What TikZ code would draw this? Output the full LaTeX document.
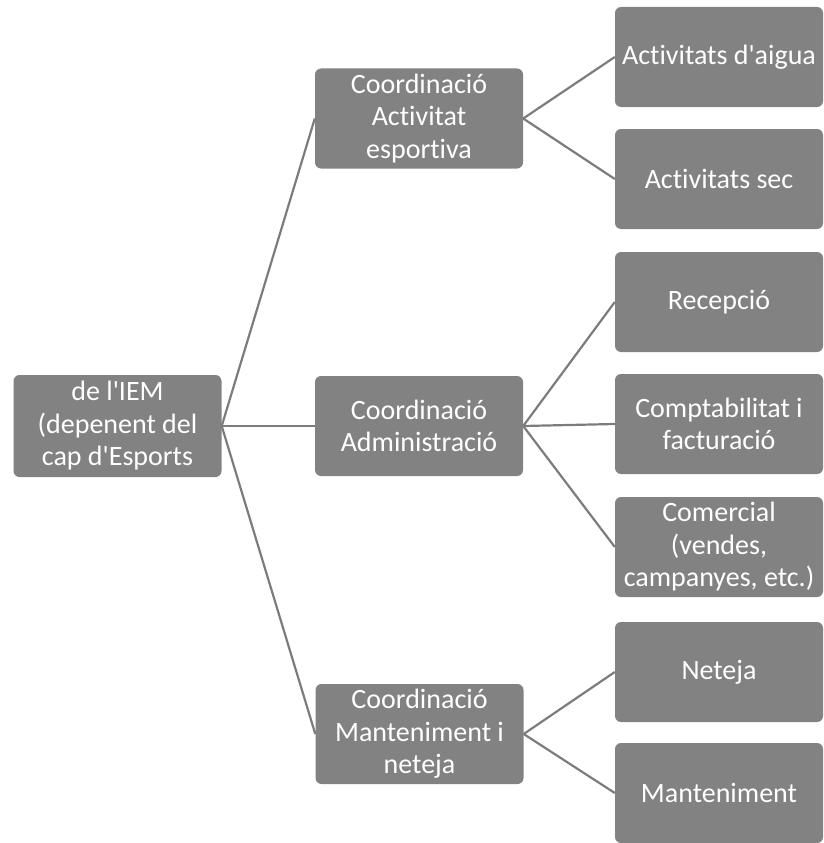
\documentclass[tikz,border=0pt]{standalone}
\usepackage{xcolor}
\usepackage{fontspec}
\setmainfont{Carlito}[Ligatures=NoCommon]
\usepackage{tikz}
\definecolor{boxgray}{HTML}{828282}
\definecolor{linkgray}{HTML}{7C7C7C}
\tikzset{orgbox/.style={fill=boxgray, rounded corners=6pt, text=white, align=center,
  minimum width=208pt, minimum height=100pt, inner sep=1pt,
  font=\fontsize{28}{32.5}\selectfont},
  orglink/.style={draw=linkgray, line width=2.2pt}}

\begin{document}
\begin{tikzpicture}[x=1pt,y=-1pt]
\useasboundingbox (0,0) rectangle (823,843);
% arrel
\node[orgbox, minimum height=102pt] (iem) at (117.5,426) {de l\textquotesingle IEM\\(depenent del\\cap d\textquotesingle Esports};
% coordinacions
\node[orgbox] (esport) at (419,118.5) {Coordinació\\Activitat\\esportiva};
\node[orgbox] (admin) at (419,426) {Coordinació\\Administració};
\node[orgbox] (mant) at (419.5,734) {Coordinació\\Manteniment i\\neteja};
% arees
\node[orgbox] (aigua) at (719,57) {Activitats d\textquotesingle aigua};
\node[orgbox] (sec) at (719,179) {Activitats sec};
\node[orgbox] (recep) at (719,302) {Recepció};
\node[orgbox] (compt) at (719,424) {Comptabilitat i\\facturació};
\node[orgbox] (comerc) at (719,547) {Comercial\\(vendes,\\campanyes, etc.)};
\node[orgbox] (neteja) at (719,672) {Neteja};
\node[orgbox] (manten) at (719,793) {Manteniment};
% enllacos
\draw[orglink] (iem.east) -- (esport.west);
\draw[orglink] (iem.east) -- (admin.west);
\draw[orglink] (iem.east) -- (mant.west);
\draw[orglink] (esport.east) -- (aigua.west);
\draw[orglink] (esport.east) -- (sec.west);
\draw[orglink] (admin.east) -- (recep.west);
\draw[orglink] (admin.east) -- (compt.west);
\draw[orglink] (admin.east) -- (comerc.west);
\draw[orglink] (mant.east) -- (neteja.west);
\draw[orglink] (mant.east) -- (manten.west);
\end{tikzpicture}
\end{document}
